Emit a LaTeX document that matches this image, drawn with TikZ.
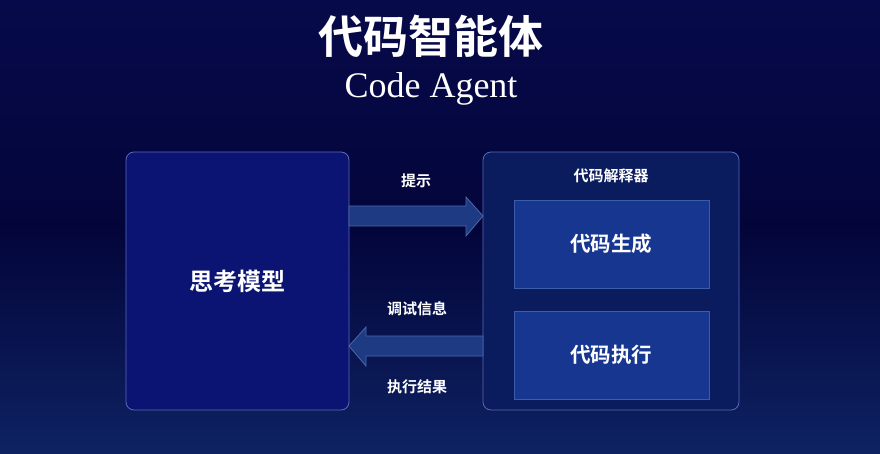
\documentclass[tikz,border=0pt]{standalone}
\usepackage{fontspec}
\setmainfont{Liberation Serif}
\newfontfamily\cjk{Noto Sans CJK SC Bold}
\usetikzlibrary{shapes.arrows}
\definecolor{bgtop}{HTML}{070A4A}
\definecolor{bgmid}{HTML}{03053A}
\definecolor{bgbot}{HTML}{0E2262}
\definecolor{leftfill}{HTML}{0B1472}
\definecolor{boxline}{HTML}{5A6AB4}
\definecolor{outerfill}{HTML}{0A1B5E}
\definecolor{innerfill}{HTML}{163690}
\definecolor{innerline}{HTML}{3D5CAA}
\definecolor{arrfill}{HTML}{1D3A82}
\definecolor{arrline}{HTML}{4A68AA}
\begin{document}
\begin{tikzpicture}[x=1pt,y=-1pt,
  lbl/.style={text=white,font=\cjk\fontsize{15}{18}\selectfont},
  bigbox/.style={draw=boxline,line width=0.8pt,rounded corners=8pt},
  inner/.style={draw=innerline,line width=0.8pt,fill=innerfill},
  fatarrow/.style={fill=arrfill,draw=arrline,line width=0.8pt}]
\shade[top color=bgtop,bottom color=bgbot,middle color=bgmid] (0,0) rectangle (880,454);
\useasboundingbox (0,0) rectangle (880,454);
% title
\node[text=white,font=\cjk\fontsize{45}{50}\selectfont] (title) at (431,36) {代码智能体};
\node[text=white,font=\fontsize{36}{40}\selectfont] (sub) at (431,89) {Code Agent};
% left box
\draw[bigbox,fill=leftfill] (126,152) rectangle (349,410);
\node[text=white,font=\cjk\fontsize{24}{28}\selectfont] (think) at (237.5,281) {思考模型};
% right outer box
\draw[bigbox,fill=outerfill] (483,152) rectangle (739,410);
\node[lbl] (interp) at (611,176) {代码解释器};
\draw[inner] (514,200) rectangle (709,288);
\node[text=white,font=\cjk\fontsize{20.5}{24}\selectfont] (gen) at (611,244) {代码生成};
\draw[inner] (514,311) rectangle (709,399);
\node[text=white,font=\cjk\fontsize{20.5}{24}\selectfont] (exec) at (611,355) {代码执行};
% arrows
\draw[fatarrow] (349,206) -- (466,206) -- (466,197) -- (483,216) -- (466,236) -- (466,226) -- (349,226) -- cycle;
\draw[fatarrow] (483,336) -- (366,336) -- (366,327) -- (349,346) -- (366,366) -- (366,356) -- (483,356) -- cycle;
\node[lbl] (prompt) at (416,181) {提示};
\node[lbl] (debug) at (417,309) {调试信息};
\node[lbl] (result) at (417,387) {执行结果};
\end{tikzpicture}
\end{document}
